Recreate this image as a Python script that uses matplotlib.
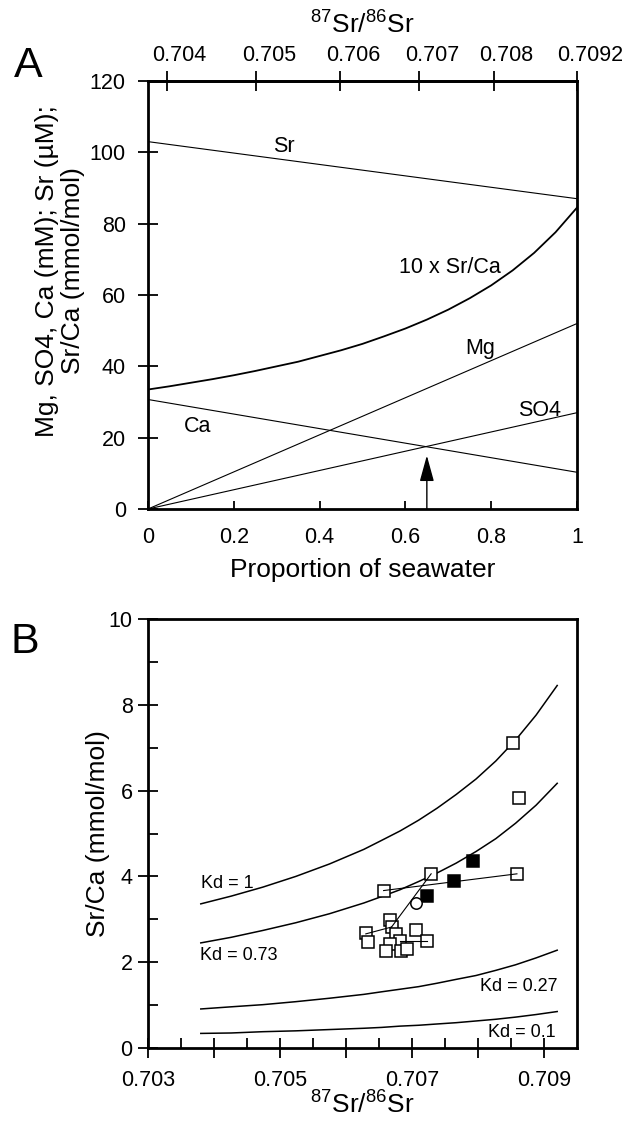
import matplotlib
matplotlib.use('Agg')
import matplotlib.pyplot as plt
import matplotlib.transforms as mtransforms
import numpy as np

plt.rcParams['font.family'] = ['Liberation Sans', 'DejaVu Sans']
plt.rcParams['mathtext.fontset'] = 'custom'
plt.rcParams['mathtext.rm'] = 'Liberation Sans'
plt.rcParams['mathtext.it'] = 'Liberation Sans:italic'
plt.rcParams['mathtext.bf'] = 'Liberation Sans:bold'

# ---------------- Panel A data ----------------
proportion_ends = [0.0, 1.0]
sr_uM = [103.0, 87.0]
mg_mM = [0.0, 52.0]
so4_mM = [0.0, 27.0]
ca_mM = [30.7, 10.3]

prop_curve = [0.0, 0.05, 0.1, 0.15, 0.2, 0.25, 0.3, 0.35, 0.4, 0.45, 0.5,
              0.55, 0.6, 0.65, 0.7, 0.75, 0.8, 0.85, 0.9, 0.95, 1.0]
srca_x10 = [33.5, 34.4, 35.4, 36.4, 37.5, 38.7, 40.0, 41.3, 42.9, 44.5, 46.3,
            48.4, 50.6, 53.1, 55.9, 59.1, 62.7, 66.9, 71.8, 77.6, 84.5]

arrow_x = 0.65
arrow_top = 15.0

ratio_ends = [0.7038, 0.7092]          # fluid, seawater 87Sr/86Sr
top_ticks = [0.704, 0.705, 0.706, 0.707, 0.708, 0.7092]
top_labels = ['0.704', '0.705', '0.706', '0.707', '0.708', '0.7092']

# ---------------- Panel B data ----------------
model_ratio = [0.70380, 0.70426, 0.70474, 0.70524, 0.70575, 0.70627, 0.70654,
               0.70682, 0.70710, 0.70738, 0.70767, 0.70797, 0.70827, 0.70857,
               0.70888, 0.70920]
kd_1 = [3.36, 3.54, 3.75, 4.00, 4.29, 4.63, 4.84, 5.06, 5.31, 5.59, 5.91,
        6.27, 6.69, 7.18, 7.76, 8.45]
kd_073 = [2.45, 2.58, 2.74, 2.92, 3.13, 3.38, 3.53, 3.69, 3.88, 4.08, 4.31,
          4.58, 4.88, 5.24, 5.66, 6.17]
kd_027 = [0.91, 0.96, 1.01, 1.08, 1.16, 1.25, 1.31, 1.37, 1.43, 1.51, 1.60,
          1.69, 1.81, 1.94, 2.10, 2.28]
kd_01 = [0.34, 0.35, 0.38, 0.40, 0.43, 0.46, 0.48, 0.51, 0.53, 0.56, 0.59,
         0.63, 0.67, 0.72, 0.78, 0.85]

open_x = [0.70853, 0.70862, 0.70859, 0.70729, 0.70657, 0.70666, 0.70670,
          0.70630, 0.70633, 0.70676, 0.70706, 0.70682, 0.70723, 0.70666,
          0.70661, 0.70684, 0.70692]
open_y = [7.12, 5.82, 4.06, 4.06, 3.67, 2.98, 2.83, 2.68, 2.48, 2.66, 2.76,
          2.50, 2.50, 2.42, 2.25, 2.25, 2.30]
filled_x = [0.70793, 0.70763, 0.70722]
filled_y = [4.36, 3.90, 3.55]
circle_x = [0.70706]
circle_y = [3.37]

tie_lines = [
    ([0.70657, 0.70859], [3.67, 4.06]),
    ([0.70729, 0.70669], [4.06, 2.82]),
    ([0.70630, 0.70669], [2.66, 2.82]),
    ([0.70682, 0.70723], [2.50, 2.50]),
]

# ---------------- Figure ----------------
fig = plt.figure(figsize=(6.34, 11.21), dpi=100)
axA = fig.add_axes([148/634, 1-509/1121, 429/634, 428/1121])
axB = fig.add_axes([148/634, 1-1048/1121, 429/634, 429/1121])

TICK_FS = 15.5
LAB_FS = 19
SPINE_W = 2.0

# ---- Panel A ----
axA.plot(proportion_ends, sr_uM, color='black', lw=0.8)
axA.plot(proportion_ends, mg_mM, color='black', lw=0.8)
axA.plot(proportion_ends, so4_mM, color='black', lw=0.8)
axA.plot(proportion_ends, ca_mM, color='black', lw=0.8)
axA.plot(prop_curve, srca_x10, color='black', lw=1.3)
axA.annotate('', xy=(arrow_x, arrow_top), xytext=(arrow_x, 0),
             arrowprops=dict(arrowstyle='-|>,head_length=0.8,head_width=0.22',
                             mutation_scale=20, lw=1.0, color='black',
                             shrinkA=0, shrinkB=0))

axA.text(0.317, 101.6, 'Sr', fontsize=TICK_FS, ha='center', va='center')
axA.text(0.704, 67.8, '10 x Sr/Ca', fontsize=TICK_FS, ha='center', va='center')
axA.text(0.774, 45.0, 'Mg', fontsize=TICK_FS, ha='center', va='center')
axA.text(0.9126, 27.5, 'SO4', fontsize=TICK_FS, ha='center', va='center')
axA.text(0.1154, 23.0, 'Ca', fontsize=TICK_FS, ha='center', va='center')

axA.set_xlim(0, 1)
axA.set_ylim(0, 120)
axA.set_xticks([0, 0.2, 0.4, 0.6, 0.8, 1.0])
axA.set_xticklabels(['0', '0.2', '0.4', '0.6', '0.8', '1'])
axA.set_yticks([0, 20, 40, 60, 80, 100, 120])
axA.set_yticklabels(['0', '20', '40', '60', '80', '100', '120'])
axA.tick_params(axis='x', direction='in', length=6, width=1.3,
                labelsize=TICK_FS, pad=13)
axA.tick_params(axis='y', direction='inout', length=14, width=1.3,
                labelsize=TICK_FS, pad=9)
for s in axA.spines.values():
    s.set_linewidth(SPINE_W)
axA.set_xlabel('Proportion of seawater', fontsize=LAB_FS, labelpad=7)

sr_f, sr_s = sr_uM[0], sr_uM[-1]
r_f, r_s = ratio_ends


def f2r(f):
    f = np.asarray(f, dtype=float)
    return r_f + (r_s - r_f) * sr_s * f / (sr_f * (1 - f) + sr_s * f)


def r2f(r):
    r = np.asarray(r, dtype=float)
    u = (r - r_f) / (r_s - r_f)
    return sr_f * u / (sr_s + (sr_f - sr_s) * u)


top = axA.secondary_xaxis('top', functions=(f2r, r2f))
top.set_xticks(top_ticks)
top.set_xticklabels(top_labels)
top.tick_params(direction='inout', length=14, width=1.3,
                labelsize=TICK_FS, pad=4)
top.spines['top'].set_linewidth(SPINE_W)
top.set_xlabel(r'$^{87}$Sr/$^{86}$Sr', fontsize=LAB_FS, labelpad=8)
shift = mtransforms.ScaledTranslation(13/100, 0, fig.dpi_scale_trans)
for lab in top.get_xticklabels():
    lab.set_transform(lab.get_transform() + shift)

fig.text(60/634, 1-271/1121,
         'Mg, SO4, Ca (mM); Sr (\u00b5M);\nSr/Ca (mmol/mol)',
         rotation=90, ha='center', va='center', multialignment='center',
         fontsize=LAB_FS, linespacing=1.1)
fig.text(28/634, 1-66/1121, 'A', fontsize=31, ha='center', va='center')

# ---- Panel B ----
for yv in (kd_1, kd_073, kd_027, kd_01):
    axB.plot(model_ratio, yv, color='black', lw=1.1)
for xs, ys in tie_lines:
    axB.plot(xs, ys, color='black', lw=0.8, zorder=5)
axB.plot(open_x, open_y, ls='none', marker='s', ms=8.2, mfc='white',
         mec='black', mew=1.1, zorder=4)
axB.plot(filled_x, filled_y, ls='none', marker='s', ms=8.2, mfc='black',
         mec='black', mew=1.1, zorder=4)
axB.plot(circle_x, circle_y, ls='none', marker='o', ms=8.2, mfc='white',
         mec='black', mew=1.1, zorder=6)

axB.text(0.70380, 3.84, 'Kd = 1', fontsize=13, ha='left', va='center')
axB.text(0.70379, 2.15, 'Kd = 0.73', fontsize=13, ha='left', va='center')
axB.text(0.70921, 1.43, 'Kd = 0.27', fontsize=13, ha='right', va='center')
axB.text(0.70917, 0.36, 'Kd = 0.1', fontsize=13, ha='right', va='center')

axB.set_xlim(0.703, 0.7095)
axB.set_ylim(0, 10)
xmaj = [0.703, 0.704, 0.705, 0.706, 0.707, 0.708, 0.709]
axB.set_xticks(xmaj)
axB.set_xticklabels(['0.703', '', '0.705', '', '0.707', '', '0.709'])
axB.set_xticks([0.7035, 0.7045, 0.7055, 0.7065, 0.7075, 0.7085], minor=True)
axB.set_yticks([0, 2, 4, 6, 8, 10])
axB.set_yticklabels(['0', '2', '4', '6', '8', '10'])
axB.set_yticks([1, 3, 5, 7, 9], minor=True)
axB.tick_params(axis='both', which='major', direction='inout', length=14,
                width=1.3, labelsize=TICK_FS)
axB.tick_params(axis='x', which='major', pad=9)
axB.tick_params(axis='y', which='major', pad=4)
axB.tick_params(axis='both', which='minor', direction='in', length=7,
                width=1.3)
for s in axB.spines.values():
    s.set_linewidth(SPINE_W)
axB.set_xlabel(r'$^{87}$Sr/$^{86}$Sr', fontsize=LAB_FS, labelpad=0)
axB.set_ylabel('Sr/Ca (mmol/mol)', fontsize=LAB_FS, labelpad=-1)
fig.text(25/634, 1-642/1121, 'B', fontsize=31, ha='center', va='center')

fig.savefig('out.png', dpi=100)
